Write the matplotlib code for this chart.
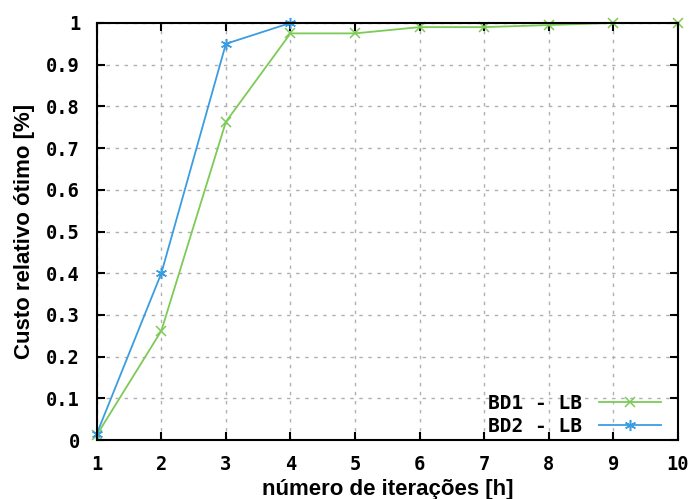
import matplotlib
matplotlib.use("Agg")
import matplotlib.pyplot as plt

x_bd1 = [1, 2, 3, 4, 5, 6, 7, 8, 9, 10]
y_bd1 = [0.012, 0.262, 0.763, 0.975, 0.975, 0.990, 0.990, 0.995, 1.0, 1.0]
x_bd2 = [1, 2, 3, 4]
y_bd2 = [0.015, 0.400, 0.950, 1.0]
xticks = [1, 2, 3, 4, 5, 6, 7, 8, 9, 10]
yticks = [0, 0.1, 0.2, 0.3, 0.4, 0.5, 0.6, 0.7, 0.8, 0.9, 1]
ytick_labels = ["0", "0.1", "0.2", "0.3", "0.4", "0.5", "0.6", "0.7", "0.8", "0.9", "1"]

fig = plt.figure(figsize=(6.96, 4.99), dpi=100)
ax = fig.add_axes([0.139, 0.118, 0.835, 0.836])

green = "#7ccb55"
blue = "#3b9de0"
ax.plot(x_bd1, y_bd1, color=green, lw=1.3, marker="x", ms=7, mew=1.1,
        label="BD1 - LB", clip_on=False, zorder=3)
ax.plot(x_bd2, y_bd2, color=blue, lw=1.3, marker=(6, 2, 0), ms=8, mew=1.1,
        label="BD2 - LB", clip_on=False, zorder=3)

ax.set_xlim(1, 10)
ax.set_ylim(0, 1)
ax.set_xticks(xticks)
ax.set_yticks(yticks)
ax.set_yticklabels(ytick_labels)
ax.grid(True, color="#b0b0b0", linestyle=(0, (2.5, 4)), lw=1.0)
ax.tick_params(direction="in", top=True, right=True, length=6, width=1.5,
               labelsize=13.5)
ax.tick_params(axis="x", pad=11)
ax.tick_params(axis="y", pad=12)
for lbl in ax.get_xticklabels() + ax.get_yticklabels():
    lbl.set_family("DejaVu Sans Mono")
    lbl.set_fontweight("bold")
for s in ax.spines.values():
    s.set_linewidth(1.5)
    s.set_zorder(4)

ax.set_xlabel("número de iterações [h]", family="Liberation Sans",
              fontweight="bold", fontsize=16, labelpad=3)
ax.set_ylabel("Custo relativo ótimo [%]", family="Liberation Sans",
              fontweight="bold", fontsize=16, labelpad=8)

leg = ax.legend(loc="lower right", frameon=False, markerfirst=False,
                prop={"family": "DejaVu Sans Mono", "weight": "bold", "size": 14},
                handlelength=3.2, borderaxespad=0.0, labelspacing=0.2,
                handletextpad=0.9, bbox_to_anchor=(0.985, -0.008))

fig.savefig("out.png", dpi=100)
